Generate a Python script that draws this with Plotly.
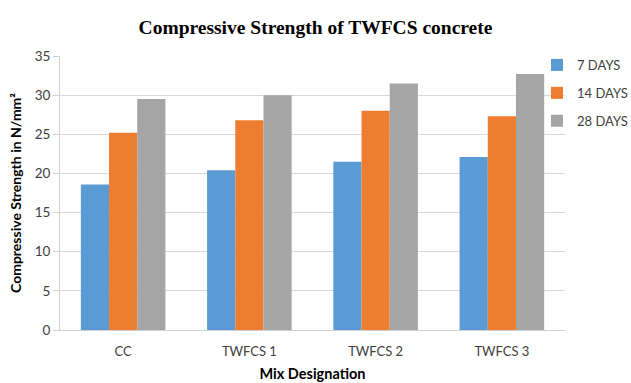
import plotly.graph_objects as go

# Compressive strength (N/mm²) for each mix at three curing ages
mixes = ["CC", "TWFCS 1", "TWFCS 2", "TWFCS 3"]
days_7 = [18.6, 20.4, 21.5, 22.1]
days_14 = [25.2, 26.8, 28.0, 27.3]
days_28 = [29.5, 30.0, 31.5, 32.7]
series_names = ["7 DAYS", "14 DAYS", "28 DAYS"]
colors = ["#5B9BD5", "#ED7D31", "#A5A5A5"]
y_ticks = [0, 5, 10, 15, 20, 25, 30, 35]

fig = go.Figure()
for name, vals, col in zip(series_names, [days_7, days_14, days_28], colors):
    fig.add_trace(go.Bar(
        x=mixes, y=vals, name=name, legendgroup=name,
        marker=dict(color=col, line=dict(width=0)),
    ))

base_font = "Lato, 'Open Sans', sans-serif"
fig.update_layout(
    width=631, height=383,
    margin=dict(l=60, r=66, t=56, b=53, autoexpand=False),
    paper_bgcolor="white", plot_bgcolor="white",
    barmode="group", bargap=0.33, bargroupgap=0,
    font=dict(family=base_font, size=13, color="#404040"),
    title=dict(
        text="<b>Compressive Strength of TWFCS concrete</b>",
        font=dict(family="'Liberation Serif', 'Times New Roman', serif", size=19.5, color="#000000"),
        x=0.5, xanchor="center", xref="container",
        y=1 - 27 / 383, yanchor="middle", yref="container",
    ),
    legend=dict(
        xref="container", yref="container",
        x=537 / 631, xanchor="left", y=1 - 50 / 383, yanchor="top",
        font=dict(size=13, color="#404040"),
        tracegroupgap=8, itemwidth=30,
        bgcolor="rgba(0,0,0,0)",
    ),
    xaxis=dict(
        showline=True, linecolor="#D0D0D0", linewidth=1,
        ticks="", showgrid=False,
        tickfont=dict(size=13, color="#404040"),
        ticklabelstandoff=9,
        title=dict(text="<b>Mix Designation</b>", font=dict(size=14.5, color="#000000"), standoff=11),
    ),
    yaxis=dict(
        range=[0, 35], tickvals=y_ticks,
        showline=True, linecolor="#D0D0D0", linewidth=1,
        ticks="outside", ticklen=6, tickcolor="#D0D0D0",
        showgrid=True, gridcolor="#D9D9D9", gridwidth=1,
        zeroline=False,
        tickfont=dict(size=13.5, color="#404040"),
        title=dict(text="<b>Compressive Strength in N/mm²</b>", font=dict(size=14, color="#000000"), standoff=9),
    ),
)

fig.write_html("out.html")
